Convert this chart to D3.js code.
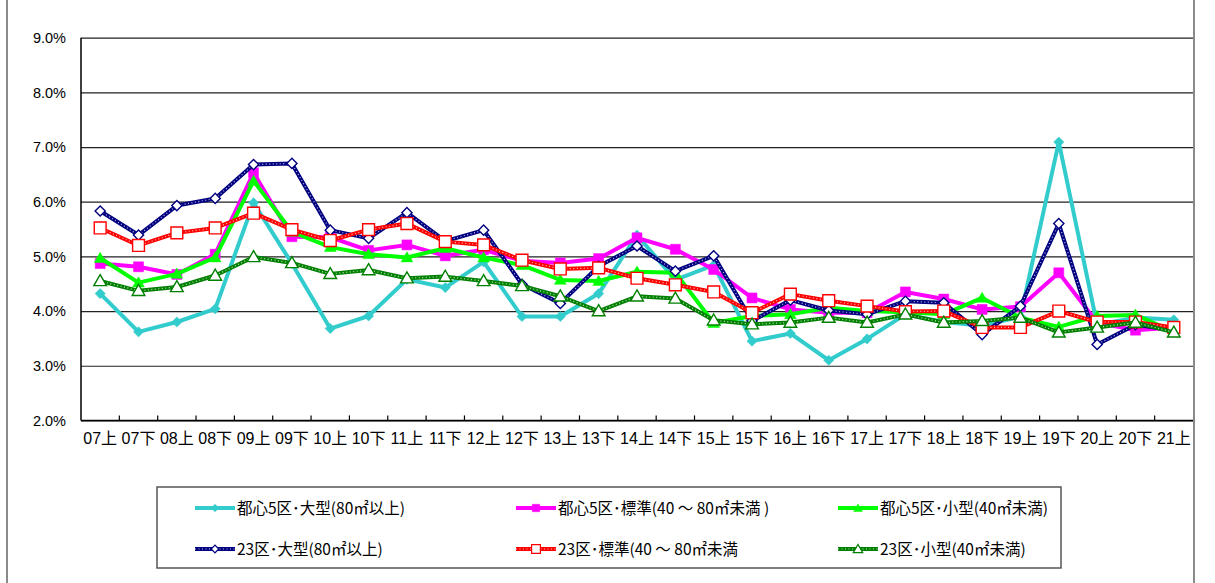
<!DOCTYPE html>
<html><head><meta charset="utf-8">
<script src="https://cdn.jsdelivr.net/npm/d3@7"></script>
<style>
html,body{margin:0;padding:0;background:#fff;}
svg{display:block;}
</style></head>
<body>
<svg id="chart" width="1215" height="583"></svg>
<script>
const categories = ["07上","07下","08上","08下","09上","09下","10上","10下","11上","11下","12上","12下","13上","13下","14上","14下","15上","15下","16上","16下","17上","17下","18上","18下","19上","19下","20上","20下","21上"];
const yTicks = [2,3,4,5,6,7,8,9];
const seriesLabels = ["都心5区･大型(80㎡以上)","都心5区･標準(40 ～ 80㎡未満 )","都心5区･小型(40㎡未満)","23区･大型(80㎡以上)","23区･標準(40 ～ 80㎡未満","23区･小型(40㎡未満)"];
const central5Large  = [4.32,3.62,3.80,4.04,5.98,4.87,3.68,3.91,4.58,4.43,4.90,3.90,3.90,4.32,5.39,4.57,4.84,3.45,3.59,3.10,3.49,3.94,3.80,3.73,3.90,7.09,3.75,3.88,3.84];
const central5Std    = [4.87,4.81,4.67,5.04,6.53,5.36,5.35,5.11,5.21,5.01,5.12,4.92,4.88,4.96,5.34,5.13,4.76,4.24,4.03,3.97,3.97,4.35,4.22,4.03,4.08,4.70,3.79,3.65,3.70];
const central5Small  = [4.97,4.52,4.68,4.98,6.38,5.45,5.17,5.04,4.98,5.15,4.98,4.84,4.57,4.55,4.72,4.70,3.78,3.91,3.94,4.06,4.00,3.98,3.94,4.24,3.88,3.71,3.91,3.93,3.62];
const ward23Large    = [5.83,5.39,5.93,6.06,6.68,6.70,5.48,5.33,5.80,5.28,5.48,4.49,4.14,4.82,5.19,4.73,5.01,3.82,4.20,4.01,3.94,4.18,4.15,3.57,4.09,5.60,3.39,3.75,3.65];
const ward23Std      = [5.52,5.20,5.43,5.52,5.79,5.49,5.29,5.49,5.60,5.27,5.21,4.93,4.77,4.79,4.60,4.48,4.35,3.97,4.31,4.19,4.09,3.99,4.00,3.70,3.70,4.00,3.80,3.80,3.70];
const ward23Small    = [4.55,4.37,4.44,4.65,4.99,4.88,4.68,4.75,4.60,4.63,4.55,4.46,4.27,4.00,4.27,4.23,3.83,3.76,3.79,3.88,3.79,3.94,3.79,3.82,3.88,3.61,3.70,3.79,3.61];

const styles = [
  {color:"#33CCCC", shape:"diamond", fill:"#33CCCC", size:52, dotted:false},
  {color:"#FF00FF", shape:"square", fill:"#FF00FF", size:100, dotted:false},
  {color:"#00FF00", shape:"triangle", fill:"#00FF00", size:60, dotted:false},
  {color:"#000080", shape:"diamond", fill:"#FFFFFF", size:52, dotted:true},
  {color:"#FF0000", shape:"square", fill:"#FFFFFF", size:140, dotted:true},
  {color:"#008000", shape:"triangle", fill:"#FFFFFF", size:70, dotted:true}
];
const seriesValues = [central5Large, central5Std, central5Small, ward23Large, ward23Std, ward23Small];

const svg = d3.select("#chart");
const L = 81, R = 1193, T = 37.7, B = 420.4;
const x = d3.scaleBand().domain(categories).range([L, R]);
const y = d3.scaleLinear().domain([2, 9]).range([B, T]);

// outer frame
svg.append("rect").attr("x",7).attr("y",-10).attr("width",1187).attr("height",603)
  .attr("fill","none").attr("stroke","#8a8a8a").attr("stroke-width",2);

// y axis labels
const yAxis = d3.axisLeft(y).tickValues(yTicks).tickFormat(d => d.toFixed(1) + "%").tickSize(0).tickPadding(15);
const gy = svg.append("g").attr("transform", `translate(${L},0)`).call(yAxis);
gy.select(".domain").remove();
gy.selectAll("text").attr("font-family","'Liberation Sans', Arial, sans-serif").attr("font-size","14.5px").attr("fill","#000");

// gridlines
const grid = d3.axisLeft(y).tickValues(yTicks).tickSize(-(R - L)).tickFormat("");
const gg = svg.append("g").attr("transform", `translate(${L},0)`).call(grid);
gg.select(".domain").remove();
gg.selectAll("line").attr("stroke","#222").attr("stroke-width",1.2);

// axes lines
svg.append("line").attr("x1",L).attr("x2",L).attr("y1",T).attr("y2",B).attr("stroke","#000").attr("stroke-width",1.5);
svg.append("line").attr("x1",L).attr("x2",R).attr("y1",B).attr("y2",B).attr("stroke","#000").attr("stroke-width",1.5);
// x ticks inward at category boundaries
const bounds = categories.slice(1).map(c => x(c));
svg.append("g").selectAll("line").data(bounds).join("line")
  .attr("x1",d=>d).attr("x2",d=>d).attr("y1",B).attr("y2",B-5).attr("stroke","#000").attr("stroke-width",1.2);

// x labels
const xAxis = d3.axisBottom(x).tickSize(0).tickPadding(12);
const gx = svg.append("g").attr("transform", `translate(0,${B})`).call(xAxis);
gx.select(".domain").remove();
gx.selectAll("text").attr("font-family","'Liberation Sans', 'Noto Sans CJK JP', sans-serif").attr("font-size","16px").attr("fill","#000");

function symbolPath(shape, size) {
  if (shape === "triangle") return d3.symbol(d3.symbolTriangle, size)();
  return d3.symbol(d3.symbolSquare, size)();
}
function symbolTransform(shape, cx, cy) {
  if (shape === "diamond") return `translate(${cx},${cy}) rotate(45)`;
  if (shape === "triangle") return `translate(${cx},${cy+1})`;
  return `translate(${cx},${cy})`;
}

const line = d3.line().x((d,i) => x(categories[i]) + x.bandwidth()/2).y(d => y(d));

seriesValues.forEach((vals, si) => {
  const st = styles[si];
  const g = svg.append("g");
  g.append("path").datum(vals).attr("d", line).attr("fill","none")
    .attr("stroke", st.color).attr("stroke-width", 4).attr("stroke-linejoin","round");
  if (st.dotted) {
    g.append("path").datum(vals).attr("d", line).attr("fill","none")
      .attr("stroke", "#fff").attr("stroke-width", 1.2).attr("stroke-dasharray","1,2.5").attr("opacity",0.75);
  }
  g.selectAll("path.m").data(vals).join("path").attr("class","m")
    .attr("d", symbolPath(st.shape, st.size))
    .attr("transform", (d,i) => symbolTransform(st.shape, x(categories[i]) + x.bandwidth()/2, y(d)))
    .attr("fill", st.fill).attr("stroke", st.color).attr("stroke-width", st.dotted ? 1.4 : 0.5);
});

// legend
svg.append("rect").attr("x",157).attr("y",487).attr("width",904).attr("height",81)
  .attr("fill","#fff").attr("stroke","#555").attr("stroke-width",1.5);
const colX = [195, 516, 838];
const rowY = [508, 549];
seriesLabels.forEach((lab, si) => {
  const st = styles[si];
  const cx = colX[si % 3], cy = rowY[Math.floor(si / 3)];
  const g = svg.append("g");
  g.append("line").attr("x1",cx).attr("x2",cx+40).attr("y1",cy).attr("y2",cy)
    .attr("stroke",st.color).attr("stroke-width",4);
  if (st.dotted) {
    g.append("line").attr("x1",cx).attr("x2",cx+40).attr("y1",cy).attr("y2",cy)
      .attr("stroke","#fff").attr("stroke-width",1.2).attr("stroke-dasharray","1,2.5").attr("opacity",0.75);
  }
  g.append("path").attr("d", symbolPath(st.shape, st.size*0.55))
    .attr("transform", symbolTransform(st.shape, cx+20, cy))
    .attr("fill", st.fill).attr("stroke", st.color).attr("stroke-width", st.dotted ? 1.2 : 0.5);
  g.append("text").attr("x", cx+42).attr("y", cy+5.5).text(lab)
    .attr("font-family","'Noto Sans CJK JP', sans-serif").attr("font-size","15.5px").attr("fill","#000");
});
</script>
</body></html>
